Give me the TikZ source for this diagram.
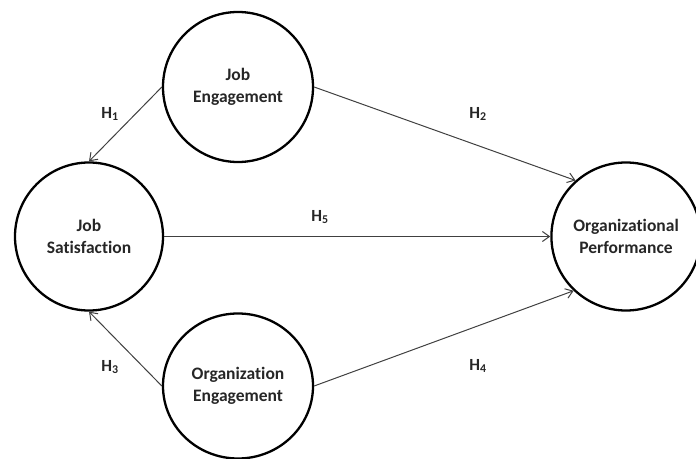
\documentclass[tikz,border=0pt]{standalone}
\usepackage{fontspec}
\setmainfont{Carlito}[Ligatures={NoCommon}]
\usetikzlibrary{shapes.geometric,arrows.meta}
\begin{document}
\begin{tikzpicture}[x=1bp,y=-1bp,
  var/.style={ellipse, draw=black, line width=2.3bp, inner sep=0pt, align=center,
    font=\bfseries\fontsize{17.5bp}{21.5bp}\selectfont, text=black!85},
  hyp/.style={draw=black!75, line width=1bp, -{Straight Barb[length=7bp,width=10bp]}},
  hlab/.style={font=\bfseries\fontsize{17bp}{20bp}\selectfont, text=black!85, inner sep=0pt}]
\useasboundingbox (0,0) rectangle (696,459);
\node[var, minimum width=150bp, minimum height=150bp] (je) at (238,87) {Job\\Engagement};
\node[var, minimum width=148bp, minimum height=148bp] (js) at (89,236.5) {Job\\Satisfaction};
\node[var, minimum width=150bp, minimum height=145bp] (oe) at (238,386) {Organization\\Engagement};
\node[var, minimum width=139bp, minimum height=148bp] (op) at (626,236.5) {Organizational\\Performance};
\draw[hyp] (je.west) -- (js.north);
\draw[hyp] (je.east) -- (op.132);
\draw[hyp] (js.east) -- (op.west);
\draw[hyp] (oe.west) -- (js.south);
\draw[hyp] (oe.east) -- (op.226);
\node[hlab] (h1) at (110,114) {H\textsubscript{1}};
\node[hlab] (h2) at (478,114) {H\textsubscript{2}};
\node[hlab] (h5) at (320,217) {H\textsubscript{5}};
\node[hlab] (h3) at (110,367) {H\textsubscript{3}};
\node[hlab] (h4) at (478,366) {H\textsubscript{4}};
\end{tikzpicture}
\end{document}
